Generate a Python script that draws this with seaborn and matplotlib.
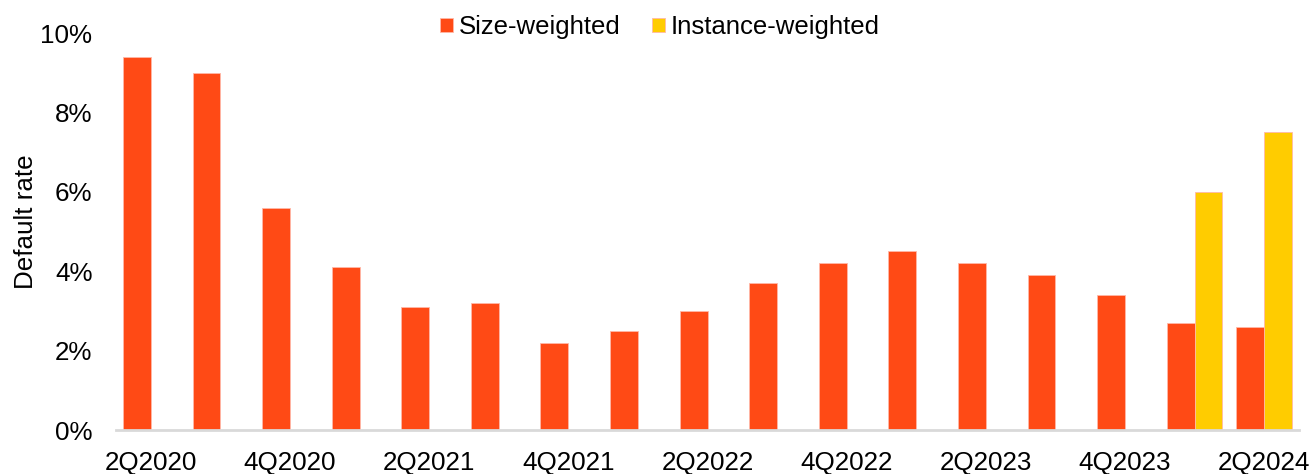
import seaborn as sns
import matplotlib
matplotlib.use('Agg')
import matplotlib.pyplot as plt
import matplotlib.ticker as mtick
import pandas as pd
import numpy as np

# data (default rate, %)
quarters = ['2Q2020', '3Q2020', '4Q2020', '1Q2021', '2Q2021', '3Q2021', '4Q2021', '1Q2022',
            '2Q2022', '3Q2022', '4Q2022', '1Q2023', '2Q2023', '3Q2023', '4Q2023', '1Q2024', '2Q2024']
size_weighted = [9.4, 9.0, 5.6, 4.1, 3.1, 3.2, 2.2, 2.5, 3.0, 3.7, 4.2, 4.5, 4.2, 3.9, 3.4, 2.7, 2.6]
instance_weighted = [np.nan] * 15 + [6.0, 7.5]
series_names = ['Size-weighted', 'Instance-weighted']
colors = ['#FF4A15', '#FFCC00']

sns.set_style('white')
plt.rcParams['font.family'] = ['Liberation Sans', 'DejaVu Sans']
plt.rcParams['text.color'] = 'black'
plt.rcParams['axes.labelcolor'] = 'black'

df = pd.DataFrame({'quarter': quarters * 2,
                   'rate': [v / 100 for v in size_weighted + instance_weighted],
                   'series': [series_names[0]] * len(quarters) + [series_names[1]] * len(quarters)})

fig = plt.figure(figsize=(13.14, 4.74), dpi=100)
ax = fig.add_axes([116 / 1314, 44 / 474, 1183 / 1314, 397 / 474])

sns.barplot(data=df, x='quarter', y='rate', hue='series', order=quarters,
            hue_order=series_names, palette=colors, saturation=1, width=0.8, dodge=True,
            edgecolor='#ffb8a8', linewidth=0.6, ax=ax)

ax.set_ylim(0, 0.10)
ax.set_xlim(-0.5, len(quarters) - 0.5)
ax.yaxis.set_major_locator(mtick.MultipleLocator(0.02))
ax.yaxis.set_major_formatter(mtick.PercentFormatter(1.0, decimals=0))
ax.set_xticks(range(0, len(quarters), 2))
ax.set_xticklabels(quarters[::2])
ax.tick_params(axis='x', length=0, pad=15, labelsize=18.7, colors='black')
ax.tick_params(axis='y', length=0, pad=17, labelsize=18.7, colors='black')
ax.set_xlabel('')
ax.set_ylabel('Default rate', fontsize=18.7)
ax.yaxis.set_label_coords(-0.066, 0.525)

for s in ['left', 'right', 'top']:
    ax.spines[s].set_visible(False)
ax.spines['bottom'].set_color('#d9d9d9')
ax.spines['bottom'].set_linewidth(2)

ax.legend(loc='center', bbox_to_anchor=(660 / 1314, 1 - 27 / 474), bbox_transform=fig.transFigure,
          ncol=2, frameon=False, fontsize=18.5, handlelength=0.5, handleheight=0.5,
          handletextpad=0.25, columnspacing=1.2)

fig.savefig('out.png', dpi=100)
